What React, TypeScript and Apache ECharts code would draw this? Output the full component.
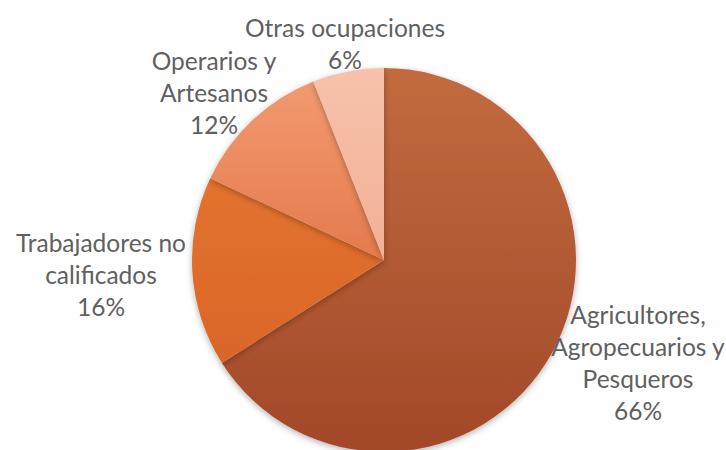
import React, { useEffect, useRef } from "react";
import * as echarts from "echarts";

const categories = [
  "Agricultores,\nAgropecuarios y\nPesqueros",
  "Trabajadores no\ncalificados",
  "Operarios y\nArtesanos",
  "Otras ocupaciones",
];
const values = [66, 16, 12, 6];
const percentLabels = ["66%", "16%", "12%", "6%"];

const sliceColors = [
  ["#c26b3e", "#a2482a"],
  ["#e3732f", "#da6529"],
  ["#f29a70", "#e47a4c"],
  ["#f7c2ab", "#f2b095"],
];
const labelPositions = [
  [638, 362],
  [101, 274],
  [214, 92],
  [345, 43],
];

export default function App() {
  const ref = useRef<HTMLDivElement>(null);
  useEffect(() => {
    const chart = echarts.init(ref.current!, null, { renderer: "svg" });
    chart.setOption({
      animation: false,
      backgroundColor: "#ffffff",
      series: [
        {
          type: "pie",
          center: [384, 260],
          radius: 192,
          startAngle: 90,
          clockwise: true,
          avoidLabelOverlap: false,
          data: categories.map((name, i) => ({
            name,
            value: values[i],
            itemStyle: {
              color: new echarts.graphic.LinearGradient(0, 0, 0, 1, [
                { offset: 0, color: sliceColors[i][0] },
                { offset: 1, color: sliceColors[i][1] },
              ]),
            },
            label: { formatter: name + "\n" + percentLabels[i] },
          })),
          itemStyle: {
            borderWidth: 0,
            shadowBlur: 6,
            shadowColor: "rgba(0,0,0,0.3)",
            shadowOffsetY: 2,
          },
          label: {
            show: true,
            position: "outside",
            fontFamily: "Lato",
            fontSize: 24.5,
            lineHeight: 32,
            color: "#606060",
            align: "center",
          },
          labelLine: { show: false },
          labelLayout: (params: any) => ({
            x: labelPositions[params.dataIndex][0],
            y: labelPositions[params.dataIndex][1],
            align: "center",
            verticalAlign: "middle",
          }),
          emphasis: { disabled: true },
        },
      ],
    });
    return () => chart.dispose();
  }, []);
  return (
    <div
      ref={ref}
      style={{ position: "fixed", left: 0, top: 0, width: 726, height: 450 }}
    />
  );
}
